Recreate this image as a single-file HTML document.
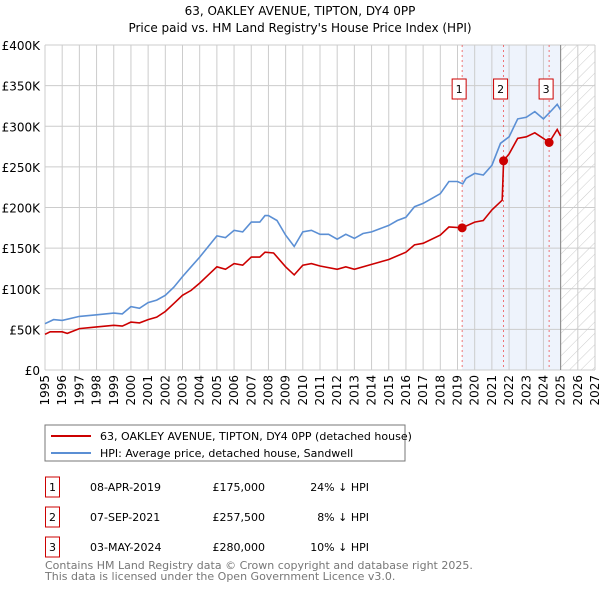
<!DOCTYPE html>
<html><head><meta charset="utf-8"><style>
body{margin:0;background:#fff;font-family:"Liberation Sans","DejaVu Sans",sans-serif;}
#wrap{position:relative;width:600px;height:590px;overflow:hidden}
text{font-family:"DejaVu Sans","Liberation Sans",sans-serif}
</style></head><body>
<div id="wrap">
<svg id="chart" width="600" height="590" xmlns="http://www.w3.org/2000/svg">
<defs><pattern id="hatch" width="8" height="8" patternUnits="userSpaceOnUse" patternTransform="rotate(45)"><line x1="0" y1="0" x2="0" y2="8" stroke="#ccc" stroke-width="1"/></pattern></defs>
<text x="300" y="15" text-anchor="middle" font-size="12">63, OAKLEY AVENUE, TIPTON, DY4 0PP</text>
<text x="300" y="32" text-anchor="middle" font-size="12">Price paid vs. HM Land Registry's House Price Index (HPI)</text>
<g id="grid"></g><g id="marks"></g><g id="axes"></g>
<rect x="45" y="425" width="360" height="36" fill="#fff" stroke="#777"/>
<line x1="51" y1="436" x2="91" y2="436" stroke="#cc0000" stroke-width="2"/>
<text x="100" y="440" font-size="11">63, OAKLEY AVENUE, TIPTON, DY4 0PP (detached house)</text>
<line x1="51" y1="453" x2="91" y2="453" stroke="#5b8fd4" stroke-width="2"/>
<text x="100" y="457" font-size="11">HPI: Average price, detached house, Sandwell</text>
<g id="table" font-size="11"></g>
<text x="45" y="569" font-size="11" fill="#777">Contains HM Land Registry data © Crown copyright and database right 2025.</text>
<text x="45" y="580" font-size="11" fill="#777">This data is licensed under the Open Government Licence v3.0.</text>
</svg></div>
<script>
const yTicks=[0,50,100,150,200,250,300,350,400];
const yTickLabels=["£0","£50K","£100K","£150K","£200K","£250K","£300K","£350K","£400K"];
const xYears=[1995,1996,1997,1998,1999,2000,2001,2002,2003,2004,2005,2006,2007,2008,2009,2010,2011,2012,2013,2014,2015,2016,2017,2018,2019,2020,2021,2022,2023,2024,2025,2026,2027];
const hpiT=[1995,1995.5,1996,1997,1998,1999,1999.5,2000,2000.5,2001,2001.5,2002,2002.5,2003,2003.5,2004,2004.5,2005,2005.5,2006,2006.5,2007,2007.5,2007.8,2008,2008.5,2009,2009.5,2010,2010.5,2011,2011.5,2012,2012.5,2013,2013.5,2014,2014.5,2015,2015.5,2016,2016.5,2017,2017.5,2018,2018.5,2019,2019.3,2019.5,2020,2020.5,2021,2021.5,2022,2022.5,2023,2023.5,2024,2024.5,2024.8,2025];
const hpiV=[57,62,61,66,68,70,69,78,76,83,86,92,102,115,127,139,152,165,163,172,170,182,182,190,190,184,166,152,170,172,167,167,161,167,162,168,170,174,178,184,188,201,205,211,217,232,232,229,236,242,240,252,279,287,309,311,318,309,320,327,320];
const propT=[1995,1995.3,1996,1996.3,1997,1998,1999,1999.5,2000,2000.5,2001,2001.5,2002,2002.5,2003,2003.5,2004,2004.5,2005,2005.5,2006,2006.5,2007,2007.5,2007.8,2008.3,2009,2009.5,2010,2010.5,2011,2012,2012.5,2013,2014,2015,2016,2016.5,2017,2018,2018.5,2019.27,2020,2020.5,2021,2021.6,2021.68,2022,2022.5,2023,2023.5,2024,2024.33,2024.8,2025];
const propV=[44,47,47,45,51,53,55,54,59,58,62,65,72,82,92,98,107,117,127,124,131,129,139,139,145,144,127,117,129,131,128,124,127,124,130,136,145,154,156,166,176,175,182,184,197,209,257.5,266,285,287,292,285,280,296,288];
const saleT=[2019.27,2021.68,2024.33];
const saleV=[175,257.5,280];
const saleLabels=["1","2","3"];
const saleDates=["08-APR-2019","07-SEP-2021","03-MAY-2024"];
const salePrices=["£175,000","£257,500","£280,000"];
const saleDiffs=["24% ↓ HPI","8% ↓ HPI","10% ↓ HPI"];

const NS="http://www.w3.org/2000/svg";
const X=t=>45+(t-1995)*(550/32);
const Y=v=>370-v*0.8125;
function mk(tag,attrs,parent){const e=document.createElementNS(NS,tag);for(const k in attrs)e.setAttribute(k,attrs[k]);parent.appendChild(e);return e;}
const grid=document.getElementById('grid'),marks=document.getElementById('marks'),axes=document.getElementById('axes'),table=document.getElementById('table');

let e=mk('rect',{x:X(saleT[0]),y:45,width:X(2025)-X(saleT[0]),height:325,fill:'#eef3fc'},grid);


e=mk('rect',{x:X(2025),y:45,width:X(2027)-X(2025),height:325,fill:'url(#hatch)'},grid);


yTicks.forEach((v,i)=>{
 let l=mk('line',{x1:45,x2:595,y1:Y(v),y2:Y(v),stroke:'#ccc'},grid);
 
 
 let t=mk('text',{x:40,y:Y(v)+5,'text-anchor':'end','font-size':12},axes);t.textContent=yTickLabels[i];
 
 
});
xYears.forEach(yr=>{
 let l=mk('line',{x1:X(yr),x2:X(yr),y1:45,y2:370,stroke:'#ccc'},grid);
 
 
 let t=mk('text',{x:0,y:0,'text-anchor':'end','font-size':12,transform:`translate(${X(yr)+4},375) rotate(-90)`},axes);t.textContent=yr;
 
 
});
e=mk('line',{x1:X(2025),x2:X(2025),y1:45,y2:370,stroke:'#888'},grid);


saleT.forEach((t,i)=>{
 let l=mk('line',{x1:X(t),x2:X(t),y1:45,y2:370,stroke:'#e55','stroke-dasharray':'2,3','stroke-width':0.8},grid);
 
 
});
function path(ts,vs,color,name){
 let d=ts.map((t,i)=>(i?'L':'M')+X(t).toFixed(1)+','+Y(vs[i]).toFixed(1)).join('');
 let p=mk('path',{d:d,fill:'none',stroke:color,'stroke-width':1.6},marks);
 
 
}
path(hpiT,hpiV,'#5b8fd4','hpi-line');
path(propT,propV,'#cc0000','property-price-line');
saleT.forEach((t,i)=>{
 let c=mk('circle',{cx:X(t),cy:Y(saleV[i]),r:4.5,fill:'#cc0000'},marks);
 
 
 let r=mk('rect',{x:X(t)-10,y:79,width:14,height:20,fill:'#fff',stroke:'#cc0000'},marks);
 
 
 let tx=mk('text',{x:X(t)-3,y:93,'text-anchor':'middle','font-size':11},marks);tx.textContent=saleLabels[i];
 
 
 const ry=489+i*30;
 let b=mk('rect',{x:45.5,y:ry-12,width:14,height:20,fill:'#fff',stroke:'#cc0000'},table);
 
 
 let a=mk('text',{x:52.5,y:ry+2,'text-anchor':'middle'},table);a.textContent=saleLabels[i];
 
 
 let d=mk('text',{x:90,y:ry+2},table);d.textContent=saleDates[i];
 
 
 let p=mk('text',{x:265,y:ry+2,'text-anchor':'end'},table);p.textContent=salePrices[i];
 
 
 let f=mk('text',{x:369,y:ry+2,'text-anchor':'end'},table);f.textContent=saleDiffs[i];
 
 
});
</script>
</body></html>
